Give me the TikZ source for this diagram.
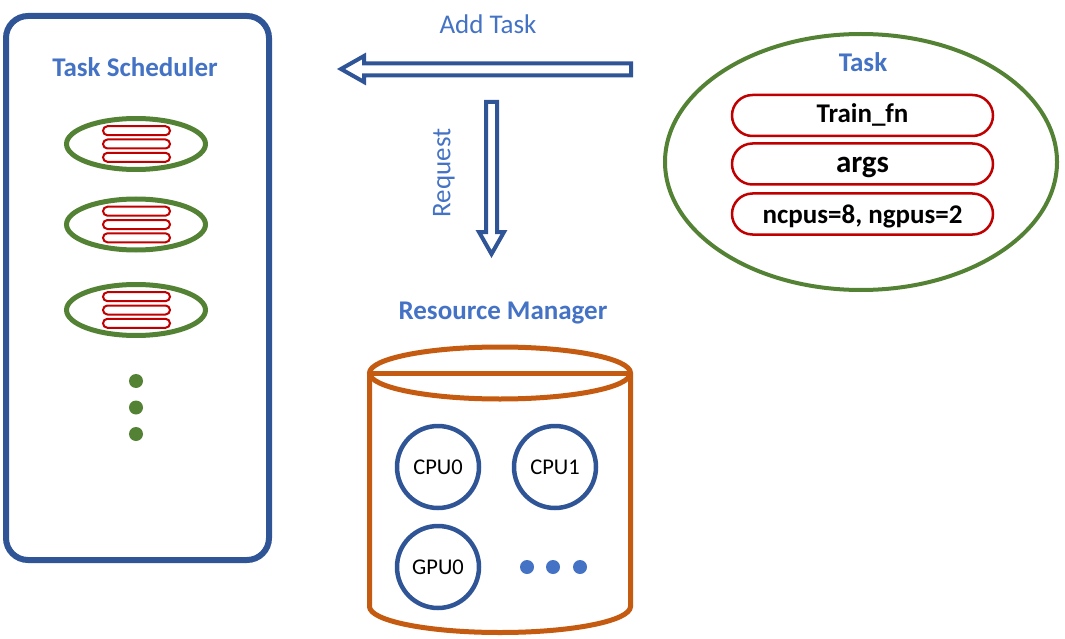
\documentclass[tikz,border=0pt]{standalone}
\usepackage{fontspec}
\setmainfont{Carlito}
\usetikzlibrary{shapes.geometric}
\definecolor{dblue}{HTML}{2F5597}
\definecolor{lblue}{HTML}{4472C4}
\definecolor{dgreen}{HTML}{548235}
\definecolor{dred}{HTML}{C00000}
\definecolor{orng}{HTML}{C55A11}
\tikzset{
  titletext/.style={text=lblue, font=\fontsize{27}{27}\selectfont\bfseries, inner sep=0},
  labeltext/.style={text=lblue, font=\fontsize{27}{27}\selectfont, inner sep=0},
  minitask/.style={ellipse, draw=dgreen, line width=5, minimum width=139, minimum height=51, inner sep=0},
  minipill/.style={draw=dred, line width=2, rounded corners=4.5, minimum width=67, minimum height=9, inner sep=0},
  gdot/.style={circle, fill=dgreen, minimum size=14, inner sep=0},
  bdot/.style={circle, fill=lblue, minimum size=14, inner sep=0},
  blockarrow/.style={draw=dblue, line width=4, line join=miter},
  res/.style={circle, draw=dblue, line width=4.5, minimum size=82, inner sep=0, font=\fontsize{22.5}{22.5}\selectfont},
  pill/.style={draw=dred, line width=2.5, rounded corners=20.5, minimum width=261, minimum height=41, inner sep=0},
}
\begin{document}
\begin{tikzpicture}[x=1pt,y=-1pt]
\useasboundingbox (0,0) rectangle (1065,639);

% Task Scheduler
\node[draw=dblue, line width=6, rounded corners=22, minimum width=263, minimum height=544, inner sep=0] (sched) at (137.5,288) {};
\node[titletext] (schedt) at (135,67) {Task Scheduler};
\foreach \i/\y in {1/144,2/224.5,3/310}{
  \node[minitask] (mt\i) at (136,\y) {};
  \node[minipill] (mt\i a) at (136.5,\y-13.3) {};
  \node[minipill] (mt\i b) at (136.5,\y) {};
  \node[minipill] (mt\i c) at (136.5,\y+13.3) {};
}
\node[gdot] (gd1) at (136,381) {};
\node[gdot] (gd2) at (136,407.5) {};
\node[gdot] (gd3) at (136,434) {};

% Add Task arrow
\node[labeltext] (addt) at (488,24) {Add Task};
\draw[blockarrow] (341,69) -- (364,56) -- (364,63.5) -- (631,63.5) -- (631,75.5) -- (364,75.5) -- (364,82) -- cycle;

% Request arrow
\node[labeltext, rotate=90] (req) at (444,173) {Request};
\draw[blockarrow] (486,102) -- (497,102) -- (497,232) -- (504,232) -- (491.5,254) -- (479,232) -- (486,232) -- cycle;

% Resource Manager
\node[titletext] (rmt) at (503,313) {Resource Manager};
\coordinate (cyltop) at (500,373);
\draw[draw=orng, line width=5]
  (369.5,373) -- (369.5,606.5)
  arc[start angle=180, end angle=0, x radius=130.5, y radius=26]
  -- (630.5,373);
\draw[draw=orng, line width=5] (cyltop) ellipse [x radius=130.5, y radius=26];
\draw[draw=orng, line width=5] (369.5,373) -- (630.5,373);
\node[res] (cpu0) at (438,467) {CPU0};
\node[res] (cpu1) at (555,467) {CPU1};
\node[res] (gpu0) at (438,567) {GPU0};
\node[bdot] (bd1) at (527,567) {};
\node[bdot] (bd2) at (553,567) {};
\node[bdot] (bd3) at (580,567) {};

% Task
\node[ellipse, draw=dgreen, line width=4, minimum width=392, minimum height=256, inner sep=0] (task) at (861,162) {};
\node[titletext] (taskt) at (863,62) {Task};
\node[pill, text height=20pt, text depth=5pt, font=\fontsize{27}{27}\selectfont\bfseries] (p1) at (862.5,115.5) {Train\_fn};
\node[pill, text height=22pt, text depth=4pt, font=\fontsize{31}{31}\selectfont\bfseries] (p2) at (862.5,164) {args};
\node[pill, text height=22pt, text depth=4pt, font=\fontsize{27}{27}\selectfont\bfseries] (p3) at (862.5,214) {ncpus=8, ngpus=2};
\end{tikzpicture}
\end{document}
